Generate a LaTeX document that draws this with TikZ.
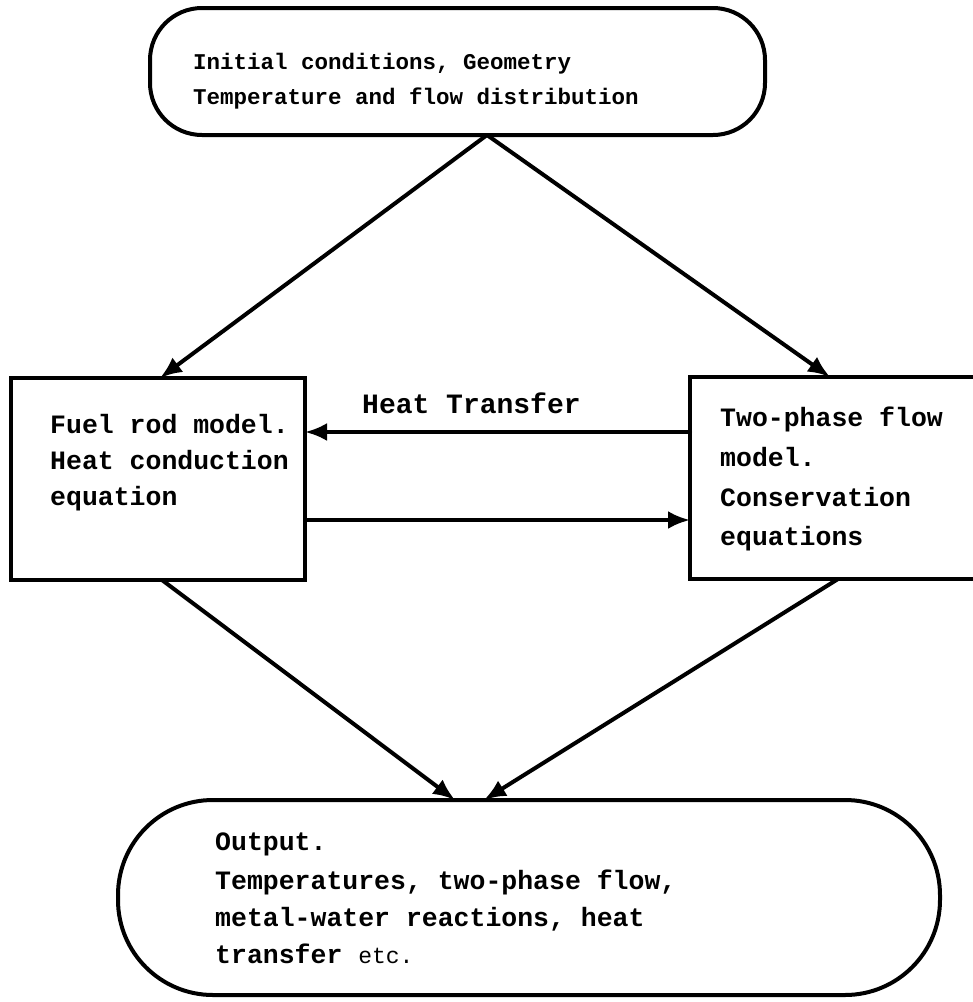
\documentclass[tikz,border=0pt]{standalone}
\usepackage{fontspec}
\setmonofont{Liberation Mono}
\usetikzlibrary{arrows.meta}
\begin{document}
\begin{tikzpicture}[x=1pt,y=-1pt,
  box/.style={draw, line width=4pt, inner sep=0pt, outer sep=0pt},
  txt/.style={anchor=base west, inner sep=0pt, font=\ttfamily\bfseries\fontsize{26.5}{30}\selectfont},
  toptxt/.style={anchor=base west, inner sep=0pt, font=\ttfamily\bfseries\fontsize{22.5}{26}\selectfont},
  arr/.style={line width=4pt, line cap=round, -{Latex[length=22pt,width=18pt]}}
]
\useasboundingbox (0,0) rectangle (973,1002);
\clip (0,0) rectangle (973,1002);

\node[box, rounded corners=52pt, minimum width=615pt, minimum height=127pt] (init) at (457.5,71.5) {};
\node[box, minimum width=294pt, minimum height=202pt] (fuel) at (158,479) {};
\node[box, minimum width=330pt, minimum height=202pt] (flow) at (855,478) {};
\node[box, rounded corners=95pt, minimum width=822pt, minimum height=195pt] (out) at (529,897.5) {};

\node[toptxt] (t1) at (193,69) {Initial conditions, Geometry};
\node[toptxt] (t2) at (193,104) {Temperature and flow distribution};
\node[txt] (f1) at (50,433) {Fuel rod model.};
\node[txt] (f2) at (50,469) {Heat conduction};
\node[txt] (f3) at (50,505) {equation};
\node[txt] (w1) at (720,426) {Two-phase flow};
\node[txt] (w2) at (720,466) {model.};
\node[txt] (w3) at (720,506) {Conservation};
\node[txt] (w4) at (720,545) {equations};
\node[txt, font=\ttfamily\bfseries\fontsize{28}{30}\selectfont] (ht) at (362,413) {Heat Transfer};
\node[txt] (o1) at (215,850) {Output.};
\node[txt] (o2) at (215,889) {Temperatures, two-phase flow,};
\node[txt] (o3) at (215,926) {metal-water reactions, heat};
\node[txt] (o4) at (215,963) {transfer {\mdseries\fontsize{23}{23}\selectfont etc.}};

\draw[arr] ([xshift=29.5pt]init.south) -- ([xshift=2pt]fuel.north);
\draw[arr] ([xshift=29.5pt]init.south) -- ([xshift=-25pt]flow.north);
\draw[arr] ([yshift=46pt]flow.west) -- ([yshift=46pt]flow.west -| fuel.east);
\draw[arr] ([yshift=-41pt]fuel.east) -- ([yshift=-41pt]fuel.east -| flow.west);
\draw[arr] ([xshift=4pt]fuel.south) -- ([xshift=-74pt]out.north);
\draw[arr] ([xshift=-17pt]flow.south) -- ([xshift=-45pt]out.north);
\end{tikzpicture}
\end{document}
